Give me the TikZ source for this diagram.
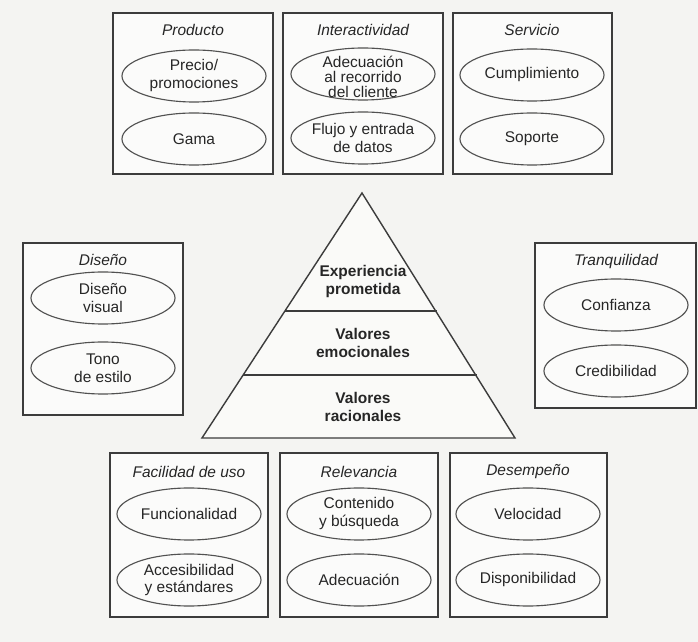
\documentclass[tikz,border=0pt]{standalone}
\usepackage{fontspec}
\setmainfont{Liberation Sans}
\usepackage{xcolor}
\usetikzlibrary{shapes.geometric}

\definecolor{paper}{HTML}{F4F4F2}
\definecolor{ink}{HTML}{262626}

\begin{document}
\begin{tikzpicture}[x=0.025cm, y=-0.025cm,
        panel/.style={draw=ink!90, line width=1.1pt, fill=white!60!paper},
        pyr/.style={draw=ink!90, line width=1pt},
        oval/.style={ellipse, draw=ink!80, line width=0.8pt, minimum width=3.6cm, minimum height=1.3cm, inner sep=0pt},
        txt/.style={align=center, text=ink, font=\fontsize{11}{12.8}\selectfont},
        ttl/.style={text=ink, font=\fontsize{11}{12.8}\selectfont\itshape},
        ptxt/.style={align=center, text=ink, font=\fontsize{11}{12.8}\selectfont\bfseries}]

            \fill[paper] (0,0) rectangle (698,642);
            \useasboundingbox (0,0) rectangle (698,642);

            %% Producto
            \draw[panel] (113,13) rectangle (273,174);
            \node[ttl] (prodT) at (193,30) {Producto};
            \node[oval] (prodA) at (194,76) {};
            \node[txt] (prodAt) at (prodA) {Precio/\\promociones};
            \node[oval] (prodB) at (194,139) {};
            \node[txt] (prodBt) at (prodB) {Gama};

            %% Interactividad
            \draw[panel] (283,13) rectangle (443,174);
            \node[ttl] (interT) at (363,30) {Interactividad};
            \node[oval] (interA) at (363,74) {};
            \node[txt] (interAt) at (363,77) {Adecuación\\[-2.2pt]al recorrido\\[-2.2pt]del cliente};
            \node[oval] (interB) at (363,138) {};
            \node[txt] (interBt) at (interB) {Flujo y entrada\\de datos};

            %% Servicio
            \draw[panel] (453,13) rectangle (612,174);
            \node[ttl] (servT) at (532,30) {Servicio};
            \node[oval] (servA) at (532,75) {};
            \node[txt] (servAt) at (servA) {Cumplimiento};
            \node[oval] (servB) at (532,139) {};
            \node[txt] (servBt) at (servB) {Soporte};

            %% Diseno
            \draw[panel] (23,243) rectangle (183,415);
            \node[ttl] (disT) at (103,260) {Diseño};
            \node[oval] (disA) at (103,298) {};
            \node[txt] (disAt) at (disA) {Diseño\\visual};
            \node[oval] (disB) at (103,368) {};
            \node[txt] (disBt) at (disB) {Tono\\de estilo};

            %% Tranquilidad
            \draw[panel] (535,243) rectangle (696,408);
            \node[ttl] (tranT) at (616,262) {Tranquilidad};
            \node[oval] (tranA) at (616,305) {};
            \node[txt] (tranAt) at (tranA) {Confianza};
            \node[oval] (tranB) at (616,371) {};
            \node[txt] (tranBt) at (tranB) {Credibilidad};

            %% Piramide
            \draw[pyr, fill=white!50!paper] (362,193) -- (515,438) -- (202,438) -- cycle;
            \draw[pyr] (285,311) -- (437,311);
            \draw[pyr] (243,375) -- (477,375);
            \node[ptxt] (expe) at (363,282) {Experiencia\\prometida};
            \node[ptxt] (emoc) at (363,343) {Valores\\emocionales};
            \node[ptxt] (raci) at (363,407) {Valores\\racionales};

            %% Facilidad de uso
            \draw[panel] (110,453) rectangle (268,617);
            \node[ttl] (faciT) at (189,472) {Facilidad de uso};
            \node[oval] (faciA) at (189,514) {};
            \node[txt] (faciAt) at (faciA) {Funcionalidad};
            \node[oval] (faciB) at (189,580) {};
            \node[txt] (faciBt) at (faciB) {Accesibilidad\\y estándares};

            %% Relevancia
            \draw[panel] (280,453) rectangle (438,617);
            \node[ttl] (releT) at (359,472) {Relevancia};
            \node[oval] (releA) at (359,514) {};
            \node[txt] (releAt) at (releA) {Contenido\\y búsqueda};
            \node[oval] (releB) at (359,580) {};
            \node[txt] (releBt) at (releB) {Adecuación};

            %% Desempeno
            \draw[panel] (450,453) rectangle (607,617);
            \node[ttl] (deseT) at (528,472) {Desempeño};
            \node[oval] (deseA) at (528,514) {};
            \node[txt] (deseAt) at (deseA) {Velocidad};
            \node[oval] (deseB) at (528,580) {};
            \node[txt] (deseBt) at (deseB) {Disponibilidad};

        \end{tikzpicture}
\end{document}
